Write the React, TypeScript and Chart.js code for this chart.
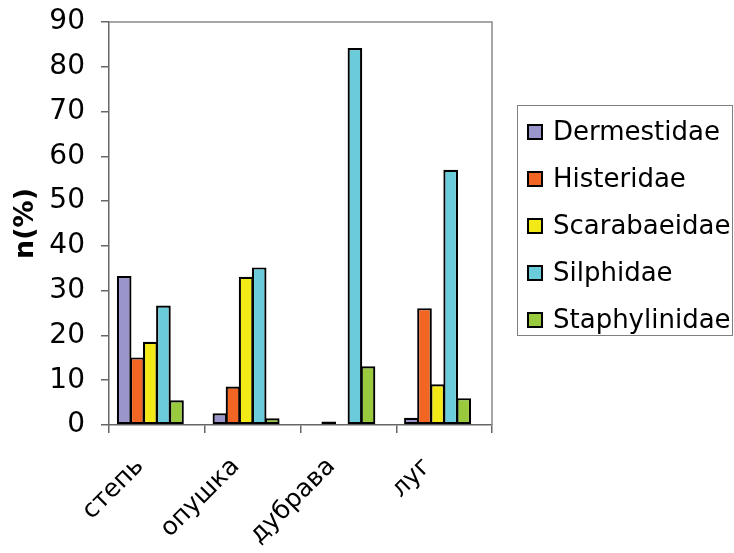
import React, { useEffect, useRef } from "react";
import { Chart, registerables } from "chart.js";

Chart.register(...registerables);

const categories = ["степь", "опушка", "дубрава", "луг"];
const seriesNames = ["Dermestidae", "Histeridae", "Scarabaeidae", "Silphidae", "Staphylinidae"];
const dermestidae = [33.3, 2.6, 0, 1.6];
const histeridae = [15.1, 8.6, 0.8, 26.1];
const scarabaeidae = [18.6, 33.1, 0, 9.1];
const silphidae = [26.7, 35.2, 84.2, 57];
const staphylinidae = [5.5, 1.5, 13.1, 6];
// Excel left an empty 6th slot in every group
const emptySlot = [null, null, null, null];
const seriesColors = ["#9a96cc", "#f26522", "#f2e917", "#6acbdb", "#99c93c"];
const yMin = 0;
const yMax = 90;
const yStep = 10;
const yTitle = "n(%)";

const FONT = "'DejaVu Sans', sans-serif";

const frameAndLegend = {
  id: "frameAndLegend",
  afterDraw(chart: any) {
    const { ctx, chartArea } = chart;
    ctx.save();
    // plot area top / right border
    ctx.strokeStyle = "#8a8a8a";
    ctx.lineWidth = 1.5;
    ctx.beginPath();
    ctx.moveTo(chartArea.left, chartArea.top);
    ctx.lineTo(chartArea.right, chartArea.top);
    ctx.lineTo(chartArea.right, chartArea.bottom);
    ctx.stroke();

    // legend box
    const bx = 517.5, by = 105.5, bw = 215, bh = 230;
    ctx.strokeStyle = "#808080";
    ctx.lineWidth = 1;
    ctx.strokeRect(bx, by, bw, bh);
    const rowH = 47;
    const startY = 132;
    ctx.font = `26px ${FONT}`;
    ctx.textBaseline = "middle";
    ctx.textAlign = "left";
    chart.data.datasets.forEach((ds: any, i: number) => {
      if (!ds.label) return;
      const cy = startY + i * rowH;
      ctx.fillStyle = ds.backgroundColor;
      ctx.fillRect(527, cy - 8, 16, 16);
      ctx.strokeStyle = "#000";
      ctx.lineWidth = 2;
      ctx.strokeRect(528, cy - 7, 14, 14);
      ctx.fillStyle = "#000";
      ctx.fillText(ds.label, 553, cy + 1);
    });
    ctx.restore();
  },
};

export default function App() {
  const ref = useRef<HTMLCanvasElement>(null);
  useEffect(() => {
    const series = [dermestidae, histeridae, scarabaeidae, silphidae, staphylinidae];
    const datasets: any[] = series.map((d, i) => ({
      label: seriesNames[i],
      data: d,
      backgroundColor: seriesColors[i],
      borderColor: "#000",
      borderWidth: 2.2,
      borderSkipped: false,
      categoryPercentage: 0.82,
      barPercentage: 1.12,
    }));
    datasets.push({
      label: "",
      data: emptySlot,
      backgroundColor: "transparent",
      borderWidth: 0,
      categoryPercentage: 0.82,
      barPercentage: 1.12,
    });
    const chart = new Chart(ref.current!, {
      type: "bar",
      data: { labels: categories, datasets },
      options: {
        animation: false,
        responsive: false,
        devicePixelRatio: 1,
        layout: { padding: { left: 0, top: 22, right: 242, bottom: 0 } },
        plugins: { legend: { display: false }, tooltip: { enabled: false } },
        scales: {
          x: {
            afterFit: (s: any) => { s.height = 128; s.paddingLeft = 0; s.paddingRight = 0; },
            grid: { offset: true, drawOnChartArea: false, drawTicks: true, tickLength: 8, color: "#666", lineWidth: 1.5 },
            border: { color: "#666", width: 1.5 },
            ticks: { minRotation: 45, maxRotation: 45, color: "#000", font: { family: FONT, size: 25 }, padding: 19, labelOffset: -17 },
          },
          y: {
            min: yMin,
            max: yMax,
            afterFit: (s: any) => { s.width = 109; s.paddingTop = 0; s.paddingBottom = 0; },
            grid: { drawOnChartArea: false, drawTicks: true, tickLength: 8, color: "#666", lineWidth: 1.5 },
            border: { color: "#666", width: 1.5 },
            ticks: { stepSize: yStep, color: "#000", font: { family: FONT, size: 28 }, padding: 16 },
            title: { display: true, text: yTitle, color: "#000", font: { family: FONT, size: 27, weight: "bold" }, padding: { top: 10, bottom: 0 } },
          },
        },
      },
      plugins: [frameAndLegend],
    });
    return () => chart.destroy();
  }, []);
  return (
    <div style={{ position: "absolute", left: 0, top: 0, width: 734, height: 553, background: "#fff" }}>
      <canvas ref={ref} width={734} height={553} style={{ width: 734, height: 553, display: "block" }} />
    </div>
  );
}
